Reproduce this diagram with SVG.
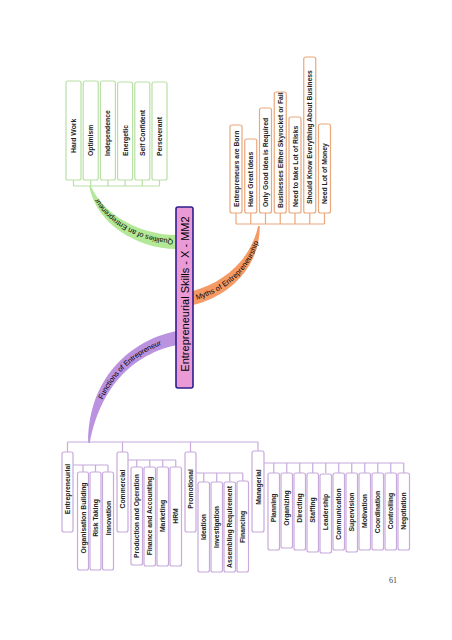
<svg xmlns="http://www.w3.org/2000/svg" width="452" height="640" viewBox="0 0 452 640">
<style>
text{font-family:"Liberation Sans",Arial,sans-serif;fill:#111}
.t{font-size:6.8px;font-weight:bold;fill:#222}
.tm{text-anchor:middle}
.g{fill:#fff;stroke:#b9e0a5;stroke-width:1.2}
.o{fill:#fff;stroke:#eaa87c;stroke-width:1.2}
.p{fill:#fff;stroke:#c8aadd;stroke-width:1.2}
.lg{fill:none;stroke:#b9e0a5;stroke-width:1.2}
.lo{fill:none;stroke:#eaa87c;stroke-width:1.2}
.lp{fill:none;stroke:#c8aadd;stroke-width:1.2}
.bl{font-size:7.3px;fill:#000}
</style>
<defs>
<path id="pp" d="M89,443 C95,375 140,345 177,338"/>
<path id="pg" d="M176,242 C140,242 100,220 90,186"/>
<path id="po" d="M193,298 C225,290 255,265 259,226"/>
</defs>
<rect width="452" height="640" fill="#fff"/>
<g id="connectors">
<path d="M177,331 C138,338 88,372 88.2,443 L89.8,443 C102,378 142,352 177,345 Z" fill="#bb92e0"/>
<path d="M90.8,186 C104,216 142,235 176,235 L176,249 C138,249 96,224 89.2,186 Z" fill="#b3e896"/>
<path d="M193,291 C222,283 250,262 258.2,226 L259.8,226 C260,268 228,297 193,305 Z" fill="#f59a64"/>
<text class="bl"><textPath href="#pp" startOffset="46"><tspan dy="2.6">Functions of Entrepreneur</tspan></textPath></text>
<text class="bl"><textPath href="#pg" startOffset="3"><tspan dy="2.6">Qualities of an Entrepreneur</tspan></textPath></text>
<text class="bl"><textPath href="#po" startOffset="3"><tspan dy="2.6">Myths of Entrepreneurship</tspan></textPath></text>
<path class="lg" d="M73.5,186 H159.5 M73.5,180 V186 M90.7,180 V186 M107.9,180 V186 M125.1,180 V186 M142.3,180 V186 M159.5,180 V186"/>
<path class="lo" d="M236,224 H324.5 M236,213 V224 M250.75,213 V224 M265.5,213 V224 M280.25,213 V224 M295,213 V224 M309.75,213 V224 M324.5,213 V224"/>
<path class="lp" d="M67.5,442 H258 M67.5,442 V452 M122.5,442 V452 M190.5,442 V452 M258,442 V451"/>
<path class="lp" d="M73,465 H108 M83,465 V472 M95.5,465 V472 M108,465 V472"/>
<path class="lp" d="M128,460 H175.75 M136.75,460 V467 M149.75,460 V467 M162.75,460 V467 M175.75,460 V467"/>
<path class="lp" d="M196,473 H242.75 M203.75,473 V482 M216.75,473 V482 M229.75,473 V482 M242.75,473 V482"/>
<path class="lp" d="M264,463 H403.75 M273.75,463 V473 M286.75,463 V473 M299.75,463 V473 M312.75,463 V473 M325.75,463 V473 M338.75,463 V473 M351.75,463 V473 M364.75,463 V473 M377.75,463 V473 M390.75,463 V473 M403.75,463 V473"/>
</g>
<g id="center">
<rect x="176" y="207" width="17" height="181" rx="2" fill="#ea9bd6" stroke="#2d1f8a" stroke-width="1.6"/>
<text x="188.5" y="294" font-size="11" class="tm" style="fill:#000" transform="rotate(-90 188.5 294)">Entrepreneurial Skills - X - MM2</text>
</g>
<g id="qualities">
<g id="q1"><rect class="g" x="66" y="81" width="15" height="99" rx="2"/><text class="t" x="76" y="153" transform="rotate(-90 76 153)">Hard Work</text></g>
<g id="q2"><rect class="g" x="83.2" y="81" width="15" height="99" rx="2"/><text class="t" x="93.2" y="156" transform="rotate(-90 93.2 156)">Optimism</text></g>
<g id="q3"><rect class="g" x="100.4" y="81" width="15" height="99" rx="2"/><text class="t" x="110.4" y="156" transform="rotate(-90 110.4 156)">Independence</text></g>
<g id="q4"><rect class="g" x="117.6" y="82" width="15" height="98" rx="2"/><text class="t" x="127.6" y="156" transform="rotate(-90 127.6 156)">Energetic</text></g>
<g id="q5"><rect class="g" x="134.8" y="82" width="15" height="98" rx="2"/><text class="t" x="144.8" y="156" transform="rotate(-90 144.8 156)">Self Confident</text></g>
<g id="q6"><rect class="g" x="152" y="82" width="15" height="98" rx="2"/><text class="t" x="162" y="156" transform="rotate(-90 162 156)">Perseverant</text></g>
</g>
<g id="myths">
<g id="m1"><rect class="o" x="230" y="125" width="12" height="88" rx="2"/><text class="t" x="238.5" y="207" transform="rotate(-90 238.5 207)">Entrepreneurs are Born</text></g>
<g id="m2"><rect class="o" x="244.75" y="139" width="12" height="74" rx="2"/><text class="t" x="253.25" y="207" transform="rotate(-90 253.25 207)">Have Great Ideas</text></g>
<g id="m3"><rect class="o" x="259.5" y="108" width="12" height="105" rx="2"/><text class="t" x="268" y="207" transform="rotate(-90 268 207)">Only Good Idea is Required</text></g>
<g id="m4"><rect class="o" x="274.25" y="92" width="12" height="121" rx="2"/><text class="t" x="282.75" y="208" transform="rotate(-90 282.75 208)">Businesses Either Skyrocket  or Fail</text></g>
<g id="m5"><rect class="o" x="289" y="117" width="12" height="96" rx="2"/><text class="t" x="297.5" y="207" transform="rotate(-90 297.5 207)">Need to take Lot of Risks</text></g>
<g id="m6"><rect class="o" x="303.75" y="57" width="12" height="156" rx="2"/><text class="t" x="312.25" y="204" transform="rotate(-90 312.25 204)">Should Know Everything About Business</text></g>
<g id="m7"><rect class="o" x="318.5" y="124" width="12" height="89" rx="2"/><text class="t" x="327" y="204" transform="rotate(-90 327 204)">Need Lot of Money</text></g>
</g>
<g id="functions">
<g id="f1"><rect class="p" x="62" y="452" width="11" height="80" rx="2"/><text class="t tm" x="70" y="489" transform="rotate(-90 70 489)">Entrepreneurial</text></g>
<g id="f1a"><rect class="p" x="77.5" y="472" width="11" height="98" rx="2"/><text class="t tm" x="85.5" y="518" transform="rotate(-90 85.5 518)">Organisation Building</text></g>
<g id="f1b"><rect class="p" x="90" y="472" width="11" height="98" rx="2"/><text class="t tm" x="98" y="518" transform="rotate(-90 98 518)">Risk Taking</text></g>
<g id="f1c"><rect class="p" x="102.5" y="472" width="11" height="98" rx="2"/><text class="t tm" x="110.5" y="518" transform="rotate(-90 110.5 518)">Innovation</text></g>
<g id="f2"><rect class="p" x="117" y="452" width="11" height="80" rx="2"/><text class="t tm" x="125" y="489" transform="rotate(-90 125 489)">Commercial</text></g>
<g id="f2a"><rect class="p" x="131" y="467" width="11.5" height="98" rx="2"/><text class="t tm" x="139.3" y="516" transform="rotate(-90 139.3 516)">Production and Operation</text></g>
<g id="f2b"><rect class="p" x="144" y="467" width="11.5" height="99" rx="2"/><text class="t tm" x="152.3" y="516" transform="rotate(-90 152.3 516)">Finance and Accounting</text></g>
<g id="f2c"><rect class="p" x="157" y="467" width="11.5" height="99" rx="2"/><text class="t tm" x="165.3" y="516" transform="rotate(-90 165.3 516)">Marketing</text></g>
<g id="f2d"><rect class="p" x="170" y="467" width="11.5" height="99" rx="2"/><text class="t tm" x="178.3" y="516" transform="rotate(-90 178.3 516)">HRM</text></g>
<g id="f3"><rect class="p" x="185" y="452" width="11" height="80" rx="2"/><text class="t tm" x="193" y="489" transform="rotate(-90 193 489)">Promotional</text></g>
<g id="f3a"><rect class="p" x="198" y="482" width="11.5" height="90" rx="2"/><text class="t tm" x="206.3" y="527" transform="rotate(-90 206.3 527)">Ideation</text></g>
<g id="f3b"><rect class="p" x="211" y="482" width="11.5" height="90" rx="2"/><text class="t tm" x="219.3" y="527" transform="rotate(-90 219.3 527)">Investigation</text></g>
<g id="f3c"><rect class="p" x="224" y="482" width="11.5" height="90" rx="2"/><text class="t tm" x="232.3" y="527" transform="rotate(-90 232.3 527)">Assembling Requirement</text></g>
<g id="f3d"><rect class="p" x="237" y="481" width="11.5" height="91" rx="2"/><text class="t tm" x="245.3" y="527" transform="rotate(-90 245.3 527)">Financing</text></g>
<g id="f4"><rect class="p" x="252" y="451" width="12" height="81" rx="2"/><text class="t tm" x="260.5" y="487" transform="rotate(-90 260.5 487)">Managerial</text></g>
<g id="f4a"><rect class="p" x="268" y="473" width="11.5" height="77" rx="2"/><text class="t tm" x="276.3" y="508" transform="rotate(-90 276.3 508)">Planning</text></g>
<g id="f4b"><rect class="p" x="281" y="473" width="11.5" height="75" rx="2"/><text class="t tm" x="289.3" y="508" transform="rotate(-90 289.3 508)">Organizing</text></g>
<g id="f4c"><rect class="p" x="294" y="473" width="11.5" height="77" rx="2"/><text class="t tm" x="302.3" y="508" transform="rotate(-90 302.3 508)">Directing</text></g>
<g id="f4d"><rect class="p" x="307" y="473" width="11.5" height="79" rx="2"/><text class="t tm" x="315.3" y="510" transform="rotate(-90 315.3 510)">Staffing</text></g>
<g id="f4e"><rect class="p" x="320" y="474" width="11.5" height="79" rx="2"/><text class="t tm" x="328.3" y="512" transform="rotate(-90 328.3 512)">Leadership</text></g>
<g id="f4f"><rect class="p" x="333" y="473" width="11.5" height="77" rx="2"/><text class="t tm" x="341.3" y="514" transform="rotate(-90 341.3 514)">Communication</text></g>
<g id="f4g"><rect class="p" x="346" y="473" width="11.5" height="79" rx="2"/><text class="t tm" x="354.3" y="512" transform="rotate(-90 354.3 512)">Supervision</text></g>
<g id="f4h"><rect class="p" x="359" y="473" width="11.5" height="77" rx="2"/><text class="t tm" x="367.3" y="511" transform="rotate(-90 367.3 511)">Motivation</text></g>
<g id="f4i"><rect class="p" x="372" y="473" width="11.5" height="77" rx="2"/><text class="t tm" x="380.3" y="512" transform="rotate(-90 380.3 512)">Coordination</text></g>
<g id="f4j"><rect class="p" x="385" y="473" width="11.5" height="77" rx="2"/><text class="t tm" x="393.3" y="511" transform="rotate(-90 393.3 511)">Controlling</text></g>
<g id="f4k"><rect class="p" x="398" y="473" width="11.5" height="77" rx="2"/><text class="t tm" x="406.3" y="511" transform="rotate(-90 406.3 511)">Negotiation</text></g>
</g>
<text x="393" y="583" font-size="8" class="tm" style="font-family:'Liberation Serif',serif;fill:#444">61</text>
</svg>
